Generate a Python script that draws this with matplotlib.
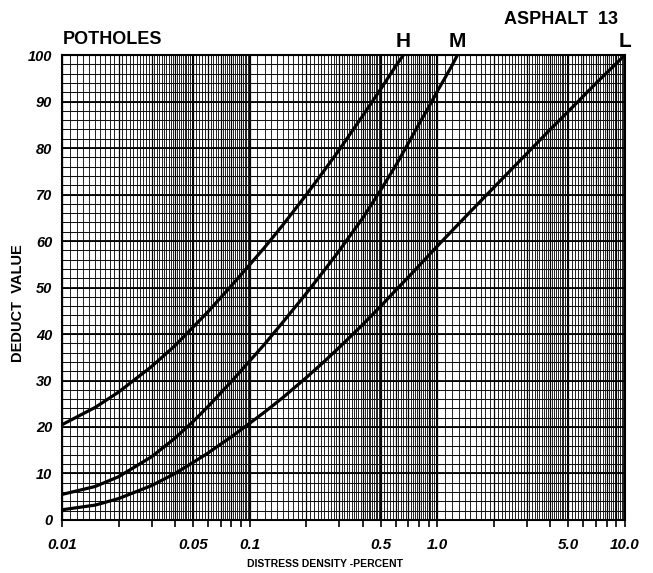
import numpy as np
import matplotlib.pyplot as plt
from matplotlib import transforms

# deduct value curves (density in percent, deduct value)
h_density = [0.01, 0.015, 0.02, 0.03, 0.04, 0.05, 0.06, 0.07, 0.08, 0.1, 0.12, 0.15,
             0.2, 0.25, 0.3, 0.4, 0.5, 0.6, 0.66]
h_deduct = [20.5, 24.2, 27.5, 33.0, 37.5, 41.5, 44.8, 47.8, 50.4, 54.9, 58.6, 63.4,
            69.9, 75.2, 79.6, 86.9, 92.7, 97.6, 100.0]

m_density = [0.01, 0.015, 0.02, 0.03, 0.04, 0.05, 0.06, 0.07, 0.08, 0.1, 0.12, 0.15,
             0.2, 0.25, 0.3, 0.4, 0.5, 0.6, 0.7, 0.8, 0.9, 1.0, 1.1, 1.2, 1.28]
m_deduct = [5.5, 7.2, 9.3, 13.6, 17.6, 21.2, 24.4, 27.3, 29.8, 34.2, 37.8, 42.5,
            48.7, 53.7, 57.9, 64.9, 71.0, 76.2, 81.0, 85.2, 88.8, 92.2, 95.1, 97.8, 100.0]

l_density = [0.01, 0.015, 0.02, 0.03, 0.04, 0.05, 0.06, 0.07, 0.08, 0.1, 0.12, 0.15,
             0.2, 0.25, 0.3, 0.4, 0.5, 0.6, 0.7, 0.8, 1.0, 1.5, 2.0, 3.0, 4.0, 5.0, 7.0, 10.0]
l_deduct = [2.2, 3.2, 4.6, 7.4, 10.0, 12.4, 14.4, 16.3, 17.9, 20.8, 23.2, 26.3,
            30.6, 34.1, 37.1, 42.0, 46.0, 49.4, 52.2, 54.7, 58.9, 66.3, 71.5, 78.8, 84.0,
            87.9, 93.9, 100.0]

curve_names = ['H', 'M', 'L']
xtick_vals = [0.01, 0.05, 0.1, 0.5, 1.0, 5.0, 10.0]
xtick_text = ['0.01', '0.05', '0.1', '0.5', '1.0', '5.0', '10.0']
ytick_vals = list(range(0, 101, 10))

fig = plt.figure(figsize=(6.53, 5.73), dpi=100)
ax = fig.add_axes([0.095, 0.0925, 0.862, 0.8115])
ax.set_xscale('log')
ax.set_xlim(0.01, 10)
ax.set_ylim(0, 100)

# log graph paper
for d in [0.01, 0.1, 1.0]:
    fine = np.concatenate([d * np.arange(1, 5, 0.1), d * np.arange(5, 10, 0.2)])
    ax.vlines(fine, 0, 100, colors='#111111', linewidth=0.65, zorder=1)
    ax.vlines(d * np.arange(1, 10), 0, 100, colors='black', linewidth=0.9, zorder=1)
    ax.vlines([d, d * 5], 0, 100, colors='black', linewidth=1.4, zorder=1)
ax.hlines(np.arange(0, 101, 2), 0.01, 10, colors='#111111', linewidth=0.75, zorder=1)
ax.hlines(np.arange(0, 101, 10), 0.01, 10, colors='black', linewidth=1.3, zorder=1)

for xs, ys in [(h_density, h_deduct), (m_density, m_deduct), (l_density, l_deduct)]:
    ax.plot(xs, ys, color='black', linewidth=2.3, zorder=3,
            solid_joinstyle='round', solid_capstyle='round')

for sp in ax.spines.values():
    sp.set_linewidth(1.5)

ax.set_xticks(xtick_vals)
ax.set_xticklabels(xtick_text, fontsize=11, fontweight='bold', style='italic',
                   family='Liberation Sans')
ax.xaxis.set_minor_formatter(plt.NullFormatter())
ax.tick_params(axis='x', which='both', direction='out', length=5, width=1.2, pad=8)
ax.set_yticks(ytick_vals)
ax.set_yticklabels([str(v) for v in ytick_vals], fontsize=10.5, fontweight='bold',
                   style='italic', family='Liberation Sans')
ax.tick_params(axis='y', length=0, pad=7)

# curve letters above the ends of each curve
trans = transforms.blended_transform_factory(ax.transData, fig.transFigure)
ends = [h_density[-1], m_density[-1], l_density[-1]]
for name, xe in zip(curve_names, ends):
    fig.text(xe, 1 - 41.5 / 573, name, transform=trans, fontsize=15, fontweight='bold',
             ha='center', va='center', family='Liberation Sans')

fig.text(0.096, 1 - 40 / 573, 'POTHOLES', fontsize=13, fontweight='bold',
         ha='left', va='center', family='Liberation Sans')
fig.text(0.946, 1 - 19 / 573, 'ASPHALT  13', fontsize=13, fontweight='bold',
         ha='right', va='center', family='Liberation Sans')
fig.text(0.028, 1 - 303 / 573, 'DEDUCT  VALUE', fontsize=10.5, fontweight='bold',
         rotation=90, ha='center', va='center', family='Liberation Sans')
fig.text(325 / 653, 1 - 564 / 573, 'DISTRESS DENSITY -PERCENT', fontsize=7.5,
         fontweight='bold', ha='center', va='center', family='Liberation Sans')

plt.savefig('out.png', dpi=100)
